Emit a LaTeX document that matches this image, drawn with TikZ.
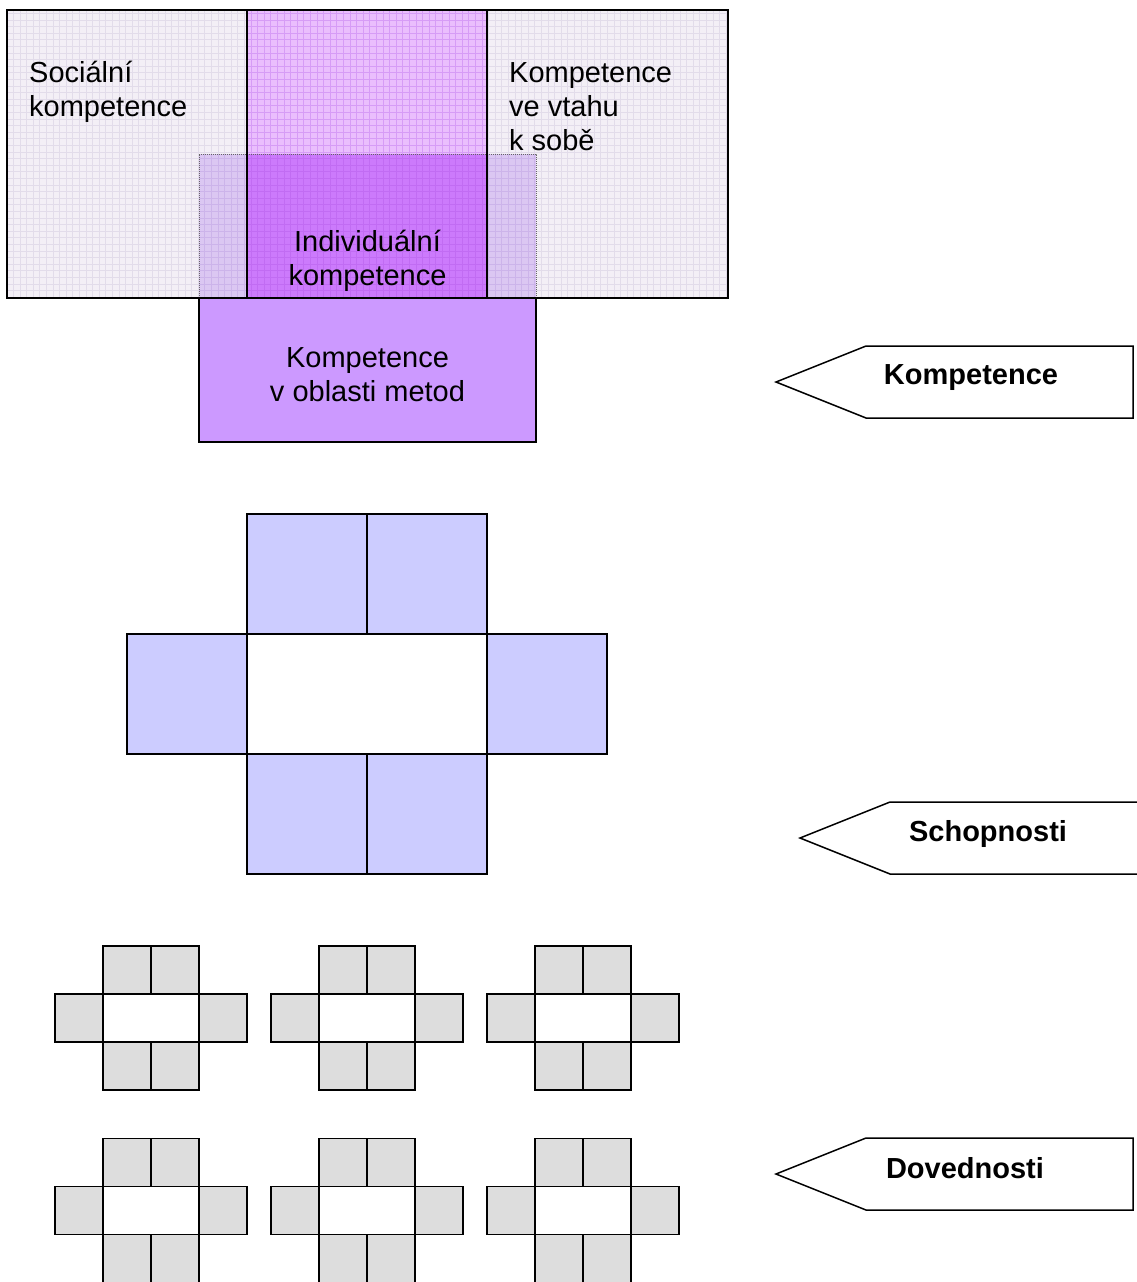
\documentclass[tikz,border=0pt]{standalone}
\usepackage{fontspec}
\setmainfont{Liberation Sans}
\begin{document}
% Fine-grid filled rectangle: fill colour, grid colour, corner, corner
\newcommand\gridfill[4]{%
  \fill[#1] #3 rectangle #4;
  \begin{scope}
    \clip #3 rectangle #4;
    \draw[#2, line width=0.45pt, step=6.6pt] #3 grid #4;
  \end{scope}}
% Block of squares forming a small ring (top-left corner of the top pair, fill)
\newcommand\smallring[3]{%
  \begin{scope}[shift={(#1,#2)}]
    \draw[cell, fill=#3] (0,0) rectangle (48,48);
    \draw[cell, fill=#3] (48,0) rectangle (96,48);
    \draw[cell, fill=#3] (-48,48) rectangle (0,96);
    \draw[cell, fill=white] (0,48) rectangle (96,96);
    \draw[cell, fill=#3] (96,48) rectangle (144,96);
    \draw[cell, fill=#3] (0,96) rectangle (48,144);
    \draw[cell, fill=#3] (48,96) rectangle (96,144);
  \end{scope}}
\begin{tikzpicture}[x=1pt, y=-1pt,
  line join=miter,
  frame/.style={draw=black, line width=2pt},
  cell/.style={draw=black, line width=1.9pt},
  label/.style={font=\fontsize{29}{34}\selectfont, inner sep=0pt},
  tag/.style={font=\fontsize{29}{34}\selectfont\bfseries, inner sep=0pt, anchor=base},
  tagshape/.style={draw=black, line width=1.5pt, fill=white}]
\useasboundingbox (0,0) rectangle (1137,1282);

% --- competence blocks ---
\gridfill{fill={rgb,255:red,243;green,239;blue,246}}{draw={rgb,255:red,226;green,220;blue,234}}{(7,10)}{(247,298)}
\gridfill{fill={rgb,255:red,243;green,239;blue,246}}{draw={rgb,255:red,226;green,220;blue,234}}{(487,10)}{(728,298)}
\gridfill{fill={rgb,255:red,234;green,190;blue,253}}{draw={rgb,255:red,214;green,156;blue,246}}{(247,10)}{(487,154)}
% overlap of the methods block with the upper blocks
\gridfill{fill={rgb,255:red,219;green,199;blue,242}}{draw={rgb,255:red,204;green,180;blue,234}}{(199,154)}{(536,298)}
\gridfill{fill={rgb,255:red,204;green,122;blue,252}}{draw={rgb,255:red,193;green,108;blue,243}}{(247,154)}{(487,298)}
\draw[gray!80!black, line width=1pt, densely dotted] (199,298) -- (199,154) -- (536,154) -- (536,298);

\draw[frame] (7,10) rectangle (728,298);
\draw[frame] (247,10) -- (247,298);
\draw[frame] (487,10) -- (487,298);
\draw[frame, fill={rgb,255:red,204;green,153;blue,255}] (199,298) rectangle (536,442);

\node[label, anchor=base west] (soc) at (29,82)
  {\begin{tabular}[t]{@{}l@{}}Sociální\\kompetence\end{tabular}};
\node[label, anchor=base west] (self) at (509,82)
  {\begin{tabular}[t]{@{}l@{}}Kompetence\\ve vtahu\\k sobě\end{tabular}};
\node[label, anchor=base] (ind) at (367.5,251)
  {\begin{tabular}[t]{@{}c@{}}Individuální\\kompetence\end{tabular}};
\node[label, anchor=base] (met) at (367.5,367)
  {\begin{tabular}[t]{@{}c@{}}Kompetence\\v oblasti metod\end{tabular}};

% --- abilities ring ---
\begin{scope}
  \draw[cell, fill={rgb,255:red,204;green,204;blue,255}] (247,514) rectangle (367,634);
  \draw[cell, fill={rgb,255:red,204;green,204;blue,255}] (367,514) rectangle (487,634);
  \draw[cell, fill={rgb,255:red,204;green,204;blue,255}] (127,634) rectangle (247,754);
  \draw[cell, fill=white] (247,634) rectangle (487,754);
  \draw[cell, fill={rgb,255:red,204;green,204;blue,255}] (487,634) rectangle (607,754);
  \draw[cell, fill={rgb,255:red,204;green,204;blue,255}] (247,754) rectangle (367,874);
  \draw[cell, fill={rgb,255:red,204;green,204;blue,255}] (367,754) rectangle (487,874);
\end{scope}

% --- skills rings ---
\foreach \xx in {103,319,535} {
  \smallring{\xx}{946}{{rgb,255:red,221;green,221;blue,221}}
  \smallring{\xx}{1138.5}{{rgb,255:red,221;green,221;blue,221}}
}

% --- level tags ---
\draw[tagshape] (776,382) -- (866,346) -- (1133,346) -- (1133,418) -- (866,418) -- cycle;
\node[tag] (t1) at (971,384) {Kompetence};
\draw[tagshape] (800,838) -- (890,802) -- (1145,802) -- (1145,874) -- (890,874) -- cycle;
\node[tag] (t2) at (988,841) {Schopnosti};
\draw[tagshape] (776,1174) -- (866,1138) -- (1133,1138) -- (1133,1210) -- (866,1210) -- cycle;
\node[tag] (t3) at (965,1178) {Dovednosti};
\end{tikzpicture}
\end{document}
